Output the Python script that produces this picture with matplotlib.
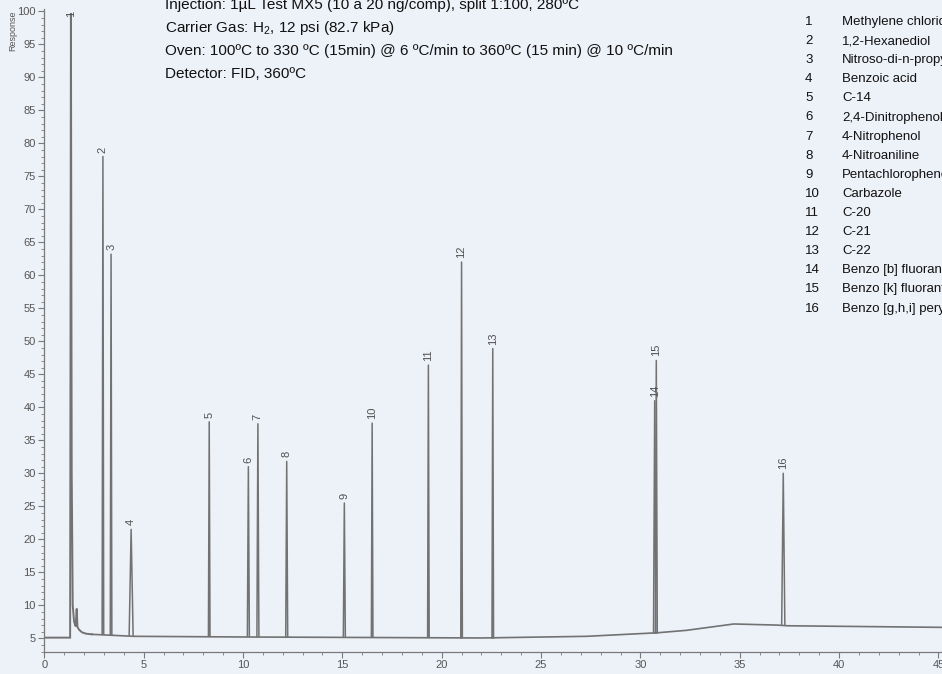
import matplotlib
matplotlib.use('Agg')
import matplotlib.pyplot as plt
from matplotlib.ticker import MultipleLocator

plt.rcParams['font.family'] = ['Liberation Sans', 'DejaVu Sans']
plt.rcParams['mathtext.fontset'] = 'custom'
plt.rcParams['mathtext.rm'] = 'Liberation Sans'

# Solvent peak (1) and its tail
solvent_t = [0.0, 1.30, 1.34, 1.38, 1.43, 1.50, 1.58, 1.63, 1.67, 1.75, 1.90, 2.10, 2.40]
solvent_y = [5.1, 5.1, 99.7, 30.0, 10.0, 7.5, 6.8, 9.5, 6.7, 6.3, 5.9, 5.7, 5.6]

# Baseline drift
base_t = [2.4, 4.5, 10.0, 22.0, 27.3, 30.6, 30.9, 32.3, 34.7, 36.9, 37.4, 47.0]
base_y = [5.6, 5.3, 5.2, 5.05, 5.3, 5.8, 5.85, 6.2, 7.17, 7.0, 6.9, 6.6]

# Labelled peaks 2-16: retention time (min), apex response, foot level, half width
peak_ids = ['2', '3', '4', '5', '6', '7', '8', '9', '10', '11', '12', '13', '14', '15', '16']
peak_t = [2.95, 3.36, 4.37, 8.30, 10.27, 10.75, 12.20, 15.10, 16.50, 19.33, 21.00, 22.57, 30.72, 30.80, 37.19]
peak_h = [78.0, 63.2, 21.5, 37.8, 31.0, 37.5, 31.8, 25.5, 37.6, 46.4, 62.0, 48.9, 41.0, 47.1, 30.0]
peak_base = [5.6, 5.5, 5.4, 5.3, 5.3, 5.3, 5.2, 5.2, 5.2, 5.15, 5.1, 5.05, 5.8, 5.8, 7.0]
peak_w = [0.04, 0.04, 0.10, 0.04, 0.05, 0.05, 0.05, 0.05, 0.04, 0.04, 0.04, 0.04, 0.06, 0.05, 0.08]

# Compound list
comp_no = [str(i) for i in range(1, 17)]
comp_names = ['Methylene chloride', '1,2-Hexanediol', 'Nitroso-di-n-propylamine',
              'Benzoic acid', 'C-14', '2,4-Dinitrophenol', '4-Nitrophenol',
              '4-Nitroaniline', 'Pentachlorophenol', 'Carbazole', 'C-20', 'C-21',
              'C-22', 'Benzo [b] fluoranthene', 'Benzo [k] fluoranthene',
              'Benzo [g,h,i] perylene']

conditions = ['Injection: 1µL Test MX5 (10 a 20 ng/comp), split 1:100, 280ºC',
              'Carrier Gas: H$_\\mathregular{2}$, 12 psi (82.7 kPa)',
              'Oven: 100ºC to 330 ºC (15min) @ 6 ºC/min to 360ºC (15 min) @ 10 ºC/min',
              'Detector: FID, 360ºC']

bg = '#edf1f8'
trace = '#727272'
axc = '#7a7a7a'

W, H = 942, 674
fig = plt.figure(figsize=(W / 100, H / 100), dpi=100, facecolor=bg)
ax = fig.add_axes([44.3 / W, 22.5 / H, 47 * 19.87 / W, 97.3 * 6.6 / H])
ax.set_facecolor(bg)

# trace
ax.plot(solvent_t, solvent_y, color=trace, lw=1.4, solid_joinstyle='miter')
ax.plot(base_t, base_y, color=trace, lw=1.2)
for t, h, b, w in zip(peak_t, peak_h, peak_base, peak_w):
    ax.plot([t - w, t, t + w], [b, h, b], color=trace, lw=1.1)

# peak labels (peak 1 label sits on its apex)
ax.text(solvent_t[2], 99.6, '1', rotation=90, ha='center', va='center',
        fontsize=8, color='#505050')
for lab, t, h in zip(peak_ids, peak_t, peak_h):
    ax.text(t, h + 0.6, lab, rotation=90, ha='center', va='bottom',
            fontsize=8, color='#505050')

ax.set_xlim(0, 47)
ax.set_ylim(3, 100.3)
ax.xaxis.set_major_locator(MultipleLocator(5))
ax.xaxis.set_minor_locator(MultipleLocator(1))
ax.yaxis.set_major_locator(MultipleLocator(5))
ax.yaxis.set_minor_locator(MultipleLocator(1))
ax.set_yticks(range(5, 101, 5))
for s in ['top', 'right']:
    ax.spines[s].set_visible(False)
for s in ['left', 'bottom']:
    ax.spines[s].set_color(axc)
    ax.spines[s].set_linewidth(0.9)
ax.tick_params(which='major', length=4, width=0.8, color=axc, labelsize=8,
               labelcolor='#555555', pad=2)
ax.tick_params(which='minor', length=2, width=0.6, color=axc)
ax.set_ylabel('Response', fontsize=6.5, color='#555555')
ax.yaxis.set_label_coords(-0.029, 0.966)

# run conditions
for i, line in enumerate(conditions):
    fig.text(165 / W, 1 - (9 + 23 * i) / H, line, fontsize=11,
             color='#111111', va='baseline', ha='left')

# compound list
for i, (n, name) in enumerate(zip(comp_no, comp_names)):
    y = 1 - (22 + 19.1 * i) / H
    fig.text(805 / W, y, n, fontsize=9.5, color='#111111', va='center', ha='left')
    fig.text(842 / W, y, name, fontsize=9.5, color='#111111', va='center', ha='left')

fig.savefig('out.png', dpi=100, facecolor=bg)
